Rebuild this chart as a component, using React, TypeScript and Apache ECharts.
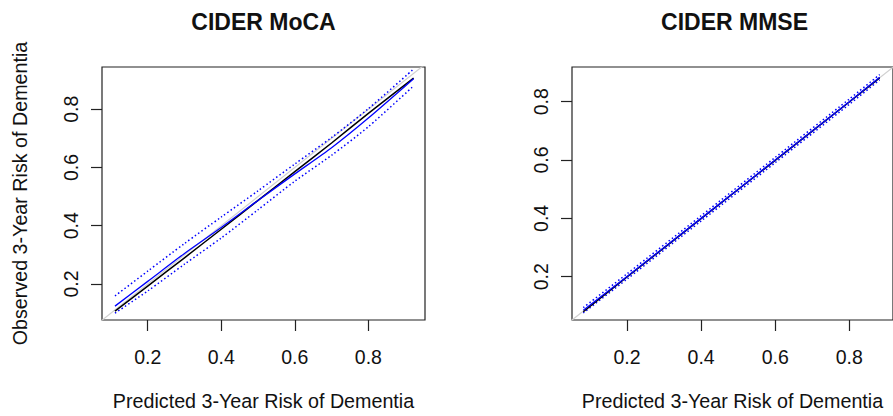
import React, { useEffect, useRef } from "react";
import * as echarts from "echarts";

// Left panel: CIDER MoCA
const mocaX = [0.111, 0.2, 0.3, 0.4, 0.5, 0.6, 0.7, 0.8, 0.923];
const mocaApparent = [0.107, 0.193, 0.29, 0.388, 0.487, 0.586, 0.684, 0.786, 0.907];
const mocaCalib = [0.124, 0.209, 0.305, 0.394, 0.487, 0.578, 0.668, 0.77, 0.905];
const mocaUpper = [0.159, 0.244, 0.339, 0.43, 0.52, 0.612, 0.703, 0.802, 0.938];
const mocaLower = [0.1, 0.176, 0.268, 0.358, 0.455, 0.553, 0.642, 0.74, 0.88];

// Right panel: CIDER MMSE
const mmseX = [0.082, 0.2, 0.4, 0.6, 0.8, 0.882];
const mmseApparent = [0.08, 0.199, 0.399, 0.599, 0.799, 0.882];
const mmseCalib = [0.085, 0.201, 0.4, 0.6, 0.8, 0.884];
const mmseUpper = [0.094, 0.21, 0.409, 0.609, 0.809, 0.893];
const mmseLower = [0.076, 0.192, 0.391, 0.591, 0.791, 0.875];

const tickValues = [0.2, 0.4, 0.6, 0.8];
const titles = ["CIDER MoCA", "CIDER MMSE"];
const xTitle = "Predicted 3-Year Risk of Dementia";
const yTitle = "Observed 3-Year Risk of Dementia";

const FONT = "Liberation Sans, Arial, sans-serif";

const zip = (xs: number[], ys: number[]) => xs.map((x, i) => [x, ys[i]]);

export default function App() {
  const ref = useRef<HTMLDivElement>(null);
  useEffect(() => {
    if (!ref.current) return;
    const chart = echarts.init(ref.current, null, { renderer: "svg" });

    const mkX = (idx: number, min: number, max: number, name: string) => ({
      type: "value",
      gridIndex: idx,
      min,
      max,
      splitLine: { show: false },
      axisLine: { show: false },
      axisTick: {
        show: true,
        customValues: tickValues,
        length: 11,
        lineStyle: { color: "#222", width: 1.2 },
      },
      axisLabel: {
        customValues: tickValues,
        margin: 27,
        fontSize: 19.5,
        fontFamily: FONT,
        color: "#111",
        formatter: (v: number) => v.toFixed(1),
      },
      name,
      nameLocation: "middle",
      nameGap: 71,
      nameTextStyle: { fontSize: 19.7, fontFamily: FONT, color: "#111" },
    });
    const mkY = (idx: number, min: number, max: number, name: string) => ({
      type: "value",
      gridIndex: idx,
      min,
      max,
      splitLine: { show: false },
      axisLine: { show: false },
      axisTick: {
        show: true,
        customValues: tickValues,
        length: 11,
        lineStyle: { color: "#222", width: 1.2 },
      },
      axisLabel: {
        customValues: tickValues,
        rotate: 90,
        margin: 21,
        fontSize: 19.5,
        fontFamily: FONT,
        color: "#111",
        formatter: (v: number) => v.toFixed(1),
      },
      name,
      nameLocation: "middle",
      nameGap: 72,
      nameRotate: 90,
      nameTextStyle: { fontSize: 19.7, fontFamily: FONT, color: "#111" },
    });

    const line = (
      xi: number,
      data: number[][],
      color: string,
      width: number,
      type: any,
      z: number
    ) => ({
      type: "line",
      xAxisIndex: xi,
      yAxisIndex: xi,
      data,
      showSymbol: false,
      symbol: "none",
      smooth: 0.25,
      clip: true,
      z,
      lineStyle: { color, width, type },
      emphasis: { disabled: true },
    });

    const dotted = [1.5, 2.5];

    chart.setOption({
      animation: false,
      backgroundColor: "#fff",
      grid: [
        { left: 102, top: 67, width: 323, height: 253, show: true, borderColor: "#222", borderWidth: 1.2, backgroundColor: "transparent" },
        { left: 572, top: 67, width: 325, height: 253, show: true, borderColor: "#222", borderWidth: 1.2, backgroundColor: "transparent" },
      ],
      xAxis: [mkX(0, 0.0757, 0.954, xTitle), mkX(1, 0.0515, 0.918, xTitle)],
      yAxis: [mkY(0, 0.0764, 0.945, yTitle), mkY(1, 0.0516, 0.919, "")],
      graphic: [
        { type: "text", x: 263.5, y: 22, style: { text: titles[0], font: `bold 23px ${FONT}`, fill: "#111", align: "center", verticalAlign: "middle" } },
        { type: "text", x: 734.5, y: 22, style: { text: titles[1], font: `bold 23px ${FONT}`, fill: "#111", align: "center", verticalAlign: "middle" } },
      ],
      series: [
        line(0, [[0, 0], [1, 1]], "#d0d0d0", 1.2, "solid", 1),
        line(0, zip(mocaX, mocaUpper), "#0000ff", 1.5, dotted, 2),
        line(0, zip(mocaX, mocaLower), "#0000ff", 1.5, dotted, 2),
        line(0, zip(mocaX, mocaApparent), "#000000", 1.5, "solid", 3),
        line(0, zip(mocaX, mocaCalib), "#0000ff", 1.3, "solid", 4),
        line(1, [[0, 0], [1, 1]], "#d0d0d0", 1.2, "solid", 1),
        line(1, zip(mmseX, mmseUpper), "#0000ff", 1.5, dotted, 2),
        line(1, zip(mmseX, mmseLower), "#0000ff", 1.5, dotted, 2),
        line(1, zip(mmseX, mmseApparent), "#000000", 1.5, "solid", 3),
        line(1, zip(mmseX, mmseCalib), "#0000ff", 1.3, "solid", 4),
      ],
    });
    return () => chart.dispose();
  }, []);
  return (
    <div
      ref={ref}
      style={{ position: "fixed", left: 0, top: 0, width: 893, height: 416, background: "#fff" }}
    />
  );
}
